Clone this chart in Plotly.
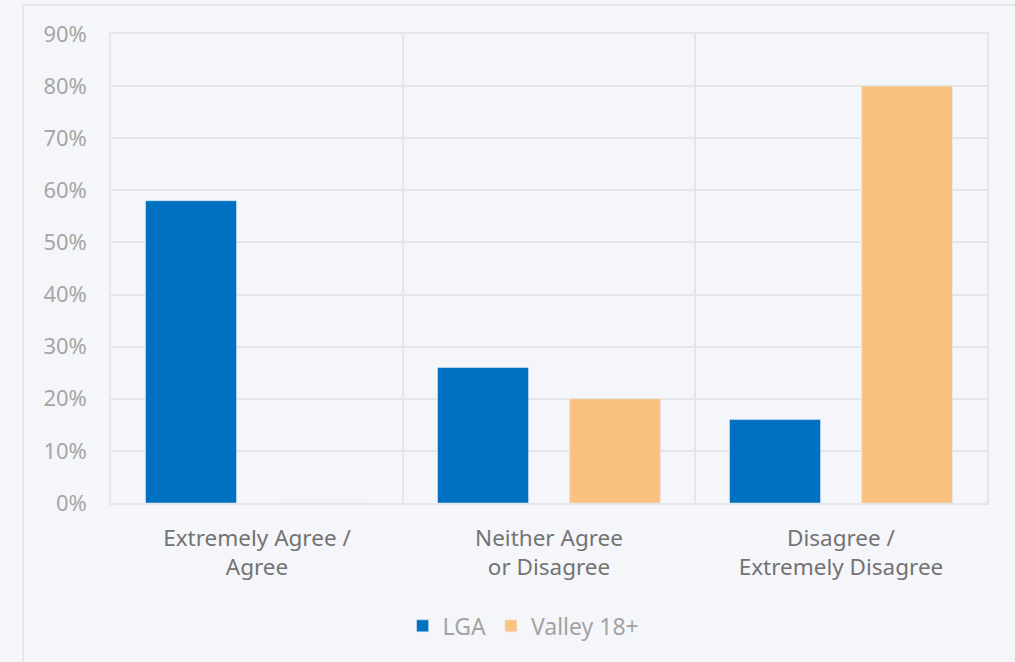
import plotly.graph_objects as go

categories = ["Extremely Agree /<br>Agree", "Neither Agree<br>or Disagree", "Disagree /<br>Extremely Disagree"]
lga = [58, 26, 16]
valley = [0, 20, 80]
series_names = ["LGA", "Valley 18+"]
tick_vals = [0, 10, 20, 30, 40, 50, 60, 70, 80, 90]
tick_text = [f"{v}%" for v in tick_vals]

BG = "#f5f6fa"
GRID = "#e4e6ea"
FONT = "Noto Sans"

fig = go.Figure()
fig.add_trace(go.Bar(x=categories, y=lga, name=series_names[0], marker_color="#0070c0"))
fig.add_trace(go.Bar(x=categories, y=valley, name=series_names[1], marker_color="#fac280"))

fig.update_layout(
    width=1015, height=662,
    paper_bgcolor=BG, plot_bgcolor=BG,
    margin=dict(l=111, r=28, t=34, b=159),
    barmode="group", bargap=0.096, bargroupgap=0.311,
    font=dict(family=FONT, size=22, color="#999999"),
    legend=dict(orientation="h", x=0.471, xanchor="center", y=-0.262, yanchor="middle",
                font=dict(size=23, color="#a3a3a3"), itemwidth=30),
    showlegend=True,
)
fig.update_xaxes(
    showgrid=True, gridcolor=GRID, gridwidth=1.5, tickson="boundaries",
    showline=True, linecolor=GRID, linewidth=1.5, mirror=True, ticks="",
    ticklabelstandoff=14,
    tickfont=dict(size=22.5, color="#737373"),
)
fig.update_yaxes(
    range=[0, 90], tickvals=tick_vals, ticktext=tick_text,
    showgrid=True, gridcolor=GRID, gridwidth=1.5, zeroline=False,
    showline=True, linecolor=GRID, linewidth=1.5, mirror=True, ticks="",
    ticklabelstandoff=18, tickfont=dict(size=22, color="#a6a6a6"),
)
fig.add_shape(type="rect", xref="paper", yref="paper",
              x0=-88/876, x1=1.2, y0=-0.5, y1=(503-5)/469,
              line=dict(color="#e6e7eb", width=2), fillcolor="rgba(0,0,0,0)", layer="below")
fig.write_html("out.html", config={"displayModeBar": False},
               post_script="document.body.style.margin='0';document.body.style.background='#f5f6fa';document.body.style.overflow='hidden';")
